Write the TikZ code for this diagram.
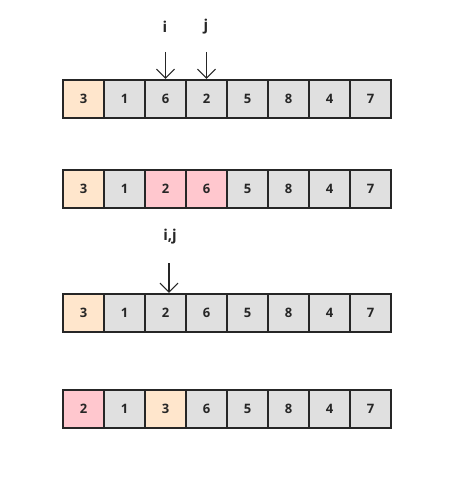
\documentclass[tikz,border=0pt]{standalone}
\usepackage{fontspec}
\setmainfont{Open Sans}
\usetikzlibrary{arrows.meta}
\definecolor{cellgray}{HTML}{E0E0E0}
\definecolor{pivotcol}{HTML}{FFE6CC}
\definecolor{swapcol}{HTML}{FFC7CE}
\definecolor{inkcol}{HTML}{262626}

\begin{document}
\begin{tikzpicture}[x=1pt, y=-1pt, font=\bfseries\fontsize{13}{15}\selectfont, text=inkcol,
  cell/.style={draw=inkcol, line width=2.2pt, fill=cellgray, minimum width=41pt, minimum height=38pt, inner sep=0pt},
  ptrlab/.style={font=\bfseries\fontsize{15}{17}\selectfont},
  ptr/.style={draw=inkcol, line width=1.1pt, -{Straight Barb[length=9pt,width=18pt]}}]
\useasboundingbox (0,0) rectangle (459,478);

% row 1: before the swap
\foreach \v/\c [count=\k] in {3/pivotcol,1/cellgray,6/cellgray,2/cellgray,5/cellgray,8/cellgray,4/cellgray,7/cellgray}
  \node[cell, fill=\c] (a\k) at ({42.5+41*\k},99) {\v};
\node[ptrlab] (ilab) at (165,27) {i};
\node[ptrlab] (jlab) at (206,27) {j};
\coordinate (itop) at (165.5,52);
\coordinate (jtop) at (206.5,52);
\draw[ptr] (itop) -- (a3.north);
\draw[ptr] (jtop) -- (a4.north);

% row 2: 6 and 2 swapped
\foreach \v/\c [count=\k] in {3/pivotcol,1/cellgray,2/swapcol,6/swapcol,5/cellgray,8/cellgray,4/cellgray,7/cellgray}
  \node[cell, fill=\c] (b\k) at ({42.5+41*\k},189) {\v};

% row 3: i and j meet
\node[ptrlab] (ijlab) at (170,237) {i,j};
\foreach \v/\c [count=\k] in {3/pivotcol,1/cellgray,2/cellgray,6/cellgray,5/cellgray,8/cellgray,4/cellgray,7/cellgray}
  \node[cell, fill=\c] (c\k) at ({42.5+41*\k},313) {\v};
\coordinate (ijtop) at (169,263);
\draw[ptr] (ijtop) -- (ijtop |- c3.north);

% row 4: pivot put in place
\foreach \v/\c [count=\k] in {2/swapcol,1/cellgray,3/pivotcol,6/cellgray,5/cellgray,8/cellgray,4/cellgray,7/cellgray}
  \node[cell, fill=\c] (d\k) at ({42.5+41*\k},409) {\v};
\end{tikzpicture}
\end{document}
